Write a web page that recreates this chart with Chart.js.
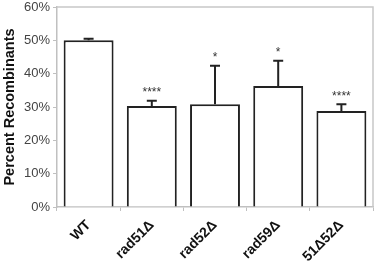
<!DOCTYPE html>
<html>
<head>
<meta charset="utf-8">
<script src="https://cdn.jsdelivr.net/npm/chart.js@4"></script>
<style>
  html, body { margin: 0; padding: 0; background: #fff; }
  #wrap { width: 381px; height: 262px; }
</style>
</head>
<body>
<div id="wrap"><canvas id="c" width="381" height="262"></canvas></div>
<script>
// ---------------- données ----------------
const strains = ['WT', 'rad51Δ', 'rad52Δ', 'rad59Δ', '51Δ52Δ'];
const recombinants = [50.0, 30.3, 30.8, 36.3, 28.8];
const errors = [0.5, 1.6, 11.6, 7.6, 2.0];
const stars = ['', '****', '*', '*', '****'];

const FONT = "'Liberation Sans', Arial, sans-serif";

// barres d'erreur + étoiles + cadre gris
const extrasPlugin = {
    id: 'extras',
    afterDatasetsDraw(chart) {
        const ctx = chart.ctx;
        const y = chart.scales.y;
        const meta = chart.getDatasetMeta(0);
        ctx.save();
        meta.data.forEach((bar, i) => {
            const x = bar.x;
            const top = y.getPixelForValue(recombinants[i]);
            const cap = y.getPixelForValue(recombinants[i] + errors[i]);
            ctx.strokeStyle = '#222';
            ctx.lineWidth = 2;
            ctx.beginPath();
            ctx.moveTo(x, top);
            ctx.lineTo(x, cap);
            ctx.moveTo(x - 5, cap);
            ctx.lineTo(x + 5, cap);
            ctx.stroke();
            if (stars[i]) {
                ctx.fillStyle = '#333';
                ctx.font = '12px ' + FONT;
                ctx.textAlign = 'center';
                ctx.textBaseline = 'bottom';
                ctx.fillText(stars[i], x, cap - 2);
            }
        });
        // cadre haut et droite
        const a = chart.chartArea;
        ctx.strokeStyle = '#c8c8c8';
        ctx.lineWidth = 1.5;
        ctx.beginPath();
        ctx.moveTo(a.left, a.top);
        ctx.lineTo(a.right, a.top);
        ctx.lineTo(a.right, a.bottom);
        ctx.stroke();
        ctx.restore();
    }
};

new Chart(document.getElementById('c'), {
    type: 'bar',
    data: {
        labels: strains,
        datasets: [{
            data: recombinants,
            backgroundColor: '#fff',
            borderColor: '#222',
            borderWidth: 2,
            categoryPercentage: 0.79,
            barPercentage: 1.0
        }]
    },
    options: {
        responsive: false,
        animation: false,
        layout: { padding: { top: 7, right: 8, left: 0, bottom: 0 } },
        plugins: {
            legend: { display: false },
            tooltip: { enabled: false }
        },
        scales: {
            x: {
                afterFit: s => { s.height = 55; },
                grid: { display: true, drawOnChartArea: false, offset: true, color: '#c0c0c0', tickLength: 4 },
                border: { color: '#c0c0c0', width: 1.5 },
                ticks: {
                    minRotation: 45, maxRotation: 45,
                    padding: 6,
                    color: '#111',
                    font: { family: FONT, size: 14, weight: 'bold' }
                }
            },
            y: {
                min: 0, max: 60,
                afterFit: s => { s.width = 57; s.paddingTop = 0; s.paddingBottom = 0; },
                grid: { display: true, drawOnChartArea: false, color: '#c0c0c0', tickLength: 4 },
                border: { color: '#c0c0c0', width: 1.5 },
                ticks: {
                    stepSize: 10,
                    color: '#444',
                    padding: 3,
                    font: { family: FONT, size: 13 },
                    callback: v => v + '%'
                },
                title: {
                    display: true,
                    text: 'Percent Recombinants',
                    color: '#111',
                    padding: { top: 1, bottom: 0 },
                    font: { family: FONT, size: 14.5, weight: 'bold' }
                }
            }
        }
    },
    plugins: [extrasPlugin]
});
</script>
</body>
</html>
